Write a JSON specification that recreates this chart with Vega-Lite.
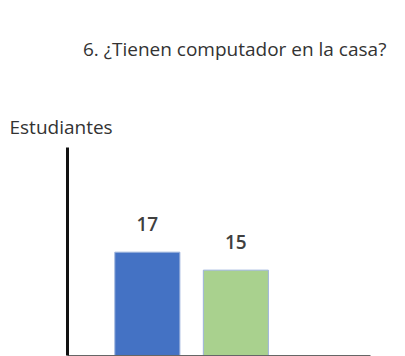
{
  "$schema": "https://vega.github.io/schema/vega-lite/v6.json",
  "width": 303,
  "height": 208,
  "autosize": {"type": "none"},
  "padding": {"left": 67, "top": 147, "right": 35, "bottom": 1},
  "background": "white",
  "config": {"view": {"stroke": null}, "font": "Open Sans"},
  "title": {
    "text": "6. ¿Tienen computador en la casa?",
    "font": "Open Sans",
    "fontSize": 19,
    "fontWeight": "normal",
    "color": "#333333",
    "anchor": "start",
    "frame": "group",
    "dx": 16,
    "dy": -13,
    "baseline": "alphabetic",
    "offset": 30
  },
  "data": {
    "values": [
      {"respuesta": "Sí", "estudiantes": 17},
      {"respuesta": "No", "estudiantes": 15}
    ]
  },
  "encoding": {
    "x": {
      "field": "respuesta",
      "type": "nominal",
      "sort": null,
      "scale": {"paddingInner": 0.265, "paddingOuter": 0.844, "align": 0.32},
      "axis": {
        "title": null,
        "labels": false,
        "ticks": false,
        "domainColor": "#666666",
        "domainWidth": 1
      }
    },
    "y": {
      "field": "estudiantes",
      "type": "quantitative",
      "scale": {"domain": [5.56, 28.7], "zero": false, "nice": false},
      "axis": {
        "title": "Estudiantes",
        "titleAngle": 0,
        "titleAlign": "left",
        "titleBaseline": "alphabetic",
        "titleX": -58,
        "titleY": -14,
        "titleFont": "Open Sans",
        "titleFontSize": 19,
        "titleFontWeight": "normal",
        "titleColor": "#333333",
        "labels": false,
        "ticks": false,
        "grid": false,
        "domainColor": "#111111",
        "domainWidth": 3
      }
    }
  },
  "layer": [
    {
      "mark": {"type": "bar", "clip": true, "stroke": "#9DB3DD", "strokeWidth": 1},
      "encoding": {
        "color": {
          "field": "respuesta",
          "type": "nominal",
          "scale": {"domain": ["Sí", "No"], "range": ["#4472C4", "#A9D18E"]},
          "legend": null
        }
      }
    },
    {
      "mark": {"type": "text", "dy": -21, "fontSize": 19, "fontWeight": 600, "color": "#404040", "baseline": "alphabetic"},
      "encoding": {"text": {"field": "estudiantes", "type": "quantitative"}}
    }
  ]
}
